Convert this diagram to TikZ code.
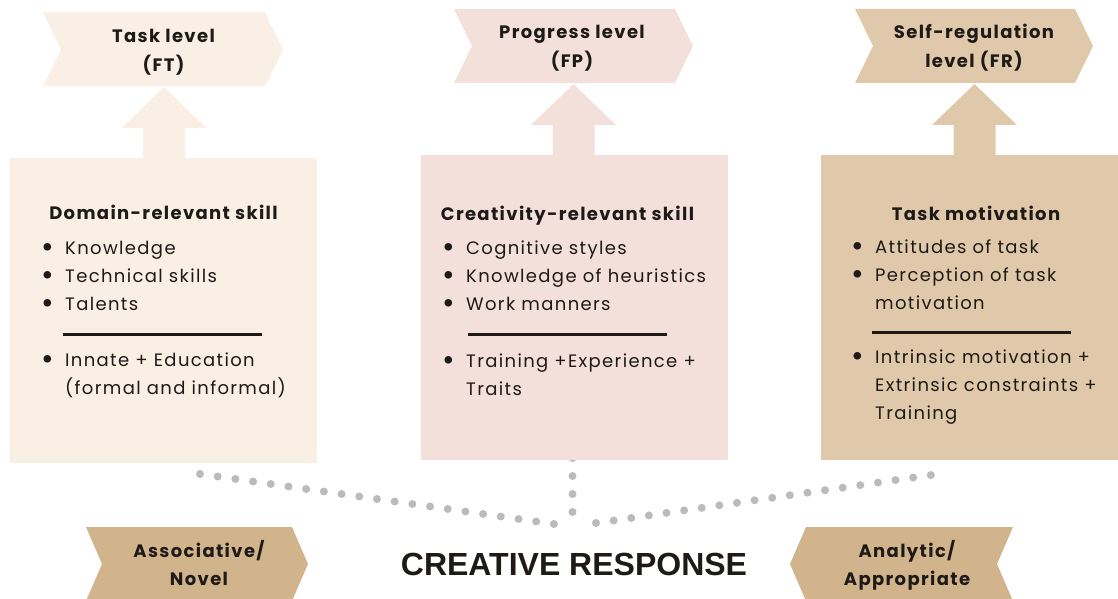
\documentclass[tikz,border=0pt]{standalone}
\usepackage{fontspec}
\setmainfont{Poppins}[LetterSpace=7.5]
\newfontfamily\bannerfont{Liberation Sans}
\usetikzlibrary{positioning}

\definecolor{taskbg}{HTML}{FAEFE5}
\definecolor{progbg}{HTML}{F4E0DA}
\definecolor{selfbg}{HTML}{E0C9AB}
\definecolor{respbg}{HTML}{D2B48C}
\definecolor{ink}{HTML}{1E1A17}
\definecolor{dotgray}{HTML}{BBBBBB}

% lines of text stacked on the first baseline
\newcommand{\stack}[2][c]{\begin{tabular}[t]{@{}#1@{}}#2\end{tabular}}
\newcommand{\bul}{\makebox[34pt][c]{\raisebox{-3pt}{\scalebox{1.7}{\textbullet}}}}
\newcommand{\ind}{\hspace*{34pt}}

% tag: centre x, centre y, half width, notch depth, fill options
\newcommand{\tagshape}[5]{%
  \fill[shift={(#1,#2)}, #5] (-#3,-37) -- (#3-#4,-37) -- (#3,0) -- (#3-#4,37)
    -- (-#3,37) -- (-#3+#4,0) -- cycle;}

% block arrow standing on top of a box
\newcommand{\levelarrow}[3]{% box, centre x, fill
  \fill[#3] (#2-21,0 |- #1.north) -- ++(0,-30) -- ++(-21.5,0) -- ++(42.5,-41)
    -- ++(42.5,41) -- ++(-21.5,0) -- ++(0,30) -- cycle;}

\tikzset{
  skillbox/.style={anchor=north west, inner sep=0pt, minimum width=307pt, minimum height=305pt},
  tagtext/.style={font=\bfseries\fontsize{18}{28.5}\selectfont, text=ink, anchor=base, inner sep=0pt},
  head/.style={font=\bfseries\fontsize{18}{28}\selectfont, text=ink, anchor=base, inner sep=0pt},
  items/.style={font=\fontsize{18}{28}\selectfont, text=ink, anchor=base west, inner sep=0pt},
  divider/.style={ink, line width=3pt},
  dotline/.style={dotgray, line width=8pt, line cap=round, dash pattern=on 0pt off #1},
  dotline/.default=17.87pt,
}

\begin{document}
\begin{tikzpicture}[x=1pt, y=-1pt]
\clip (0,0) rectangle (1118,599);

%Dotted links.
\coordinate (l1) at (200,474);
\coordinate (l2) at (554,524);
\coordinate (m1) at (572.5,458);
\coordinate (m2) at (572.5,512);
\coordinate (r1) at (596,523);
\coordinate (r2) at (931,475);
\draw[dotline] (l1) -- (l2);
\draw[dotline=17.99pt] (m1) -- (m2);
\draw[dotline=17.8pt] (r1) -- (r2);

%Declare boxes.
\node[skillbox, fill=taskbg] (domain) at (10,158) {};
\node[skillbox, fill=progbg] (creat) at (421,155) {};
\node[skillbox, fill=selfbg] (motiv) at (821,155) {};

%Arrows up to the levels.
\levelarrow{domain}{164}{taskbg}
\levelarrow{creat}{573.5}{progbg}
\levelarrow{motiv}{974.5}{selfbg}

%Level tags.
\tagshape{163}{49.5}{120}{18}{taskbg}
\tagshape{573.5}{46}{119.5}{18}{progbg}
\tagshape{974}{46}{119}{18}{selfbg}
\node[tagtext] (ft) at (163.5,43) {\stack{Task level\\(FT)}};
\node[tagtext] (fp) at (572,39) {\stack{Progress level\\(FP)}};
\node[tagtext] (fr) at (974,39) {\stack{Self-regulation\\level (FR)}};

%Domain-relevant skill.
\node[head] (dhead) at (163.5,219) {Domain-relevant skill};
\node[items] (dlist) at (31,254) {\stack[l]{\bul Knowledge\\\bul Technical skills\\\bul Talents}};
\draw[divider] (63,334) -- (262,334);
\node[items] (dsrc) at (31,366) {\stack[l]{\bul Innate + Education\\\ind(formal and informal)}};

%Creativity-relevant skill.
\node[head] (chead) at (567.5,220) {Creativity-relevant skill};
\node[items] (clist) at (432,254) {\stack[l]{\bul Cognitive styles\\\bul Knowledge of heuristics\\\bul Work manners}};
\draw[divider] (468,334) -- (667,334);
\node[items] (csrc) at (432,367) {\stack[l]{\bul Training +Experience +\\\ind Traits}};

%Task motivation.
\node[head] (mhead) at (976,220) {Task motivation};
\node[items] (mlist) at (841,253) {\stack[l]{\bul Attitudes of task\\\bul Perception of task\\\ind motivation}};
\draw[divider] (872,332) -- (1071,332);
\node[items] (msrc) at (841,363) {\stack[l]{\bul Intrinsic motivation +\\\ind Extrinsic constraints +\\\ind Training}};

%Response tags.
\tagshape{197}{564}{111}{16}{respbg}
\tagshape{901.5}{564}{111.5}{16}{respbg, xscale=-1}
\node[tagtext] (novel) at (199,557) {\stack{Associative/\\Novel}};
\node[tagtext] (approp) at (907,557) {\stack{Analytic/\\Appropriate}};
\node[anchor=base, inner sep=0pt, text=ink, font=\bannerfont\bfseries\fontsize{32}{36}\selectfont] (resp) at (574,575) {CREATIVE RESPONSE};

\end{tikzpicture}
\end{document}
